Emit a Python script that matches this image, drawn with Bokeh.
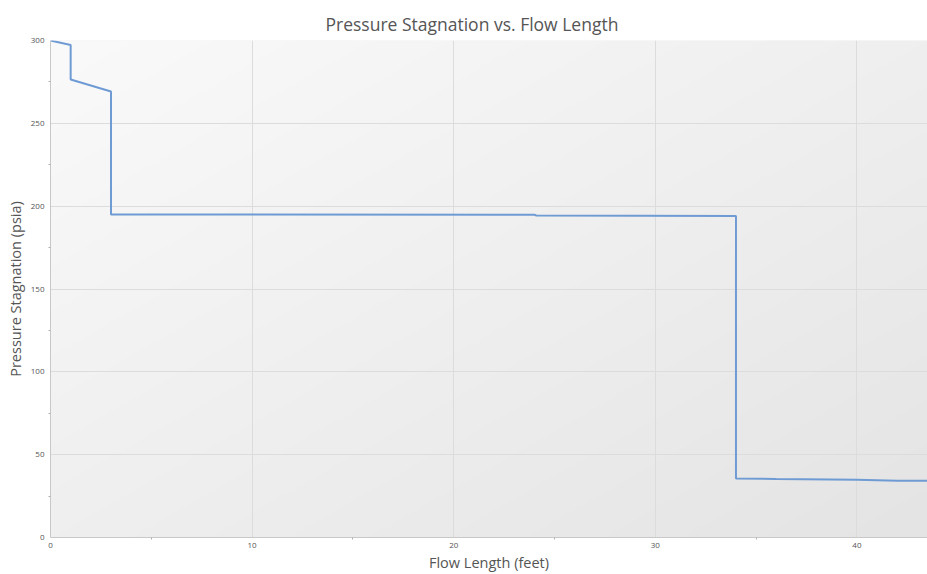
import numpy as np
from bokeh.plotting import figure
from bokeh.models import Range1d, FixedTicker
from bokeh.embed import file_html
from bokeh.resources import INLINE

# Data
flow_length = [0.0, 1.0, 1.0, 3.0, 3.0, 24.0, 24.1, 34.0, 34.0, 36.0, 40.0, 42.0, 43.5]
pressure_stagnation = [300.0, 297.3, 276.5, 269.2, 195.0, 194.8, 194.4, 194.0, 35.6, 35.3, 34.8, 34.3, 34.2]
x_ticks = [0, 10, 20, 30, 40]
y_ticks = [0, 50, 100, 150, 200, 250, 300]

X_MAX = 43.5
Y_MAX = 300

p = figure(width=927, height=574, output_backend="svg", toolbar_location=None,
           x_range=Range1d(0, X_MAX), y_range=Range1d(0, Y_MAX),
           title="Pressure Stagnation vs. Flow Length",
           min_border_left=50, min_border_right=0, min_border_top=40, min_border_bottom=0)

p.title.align = "left"
p.title.offset = 275
p.title.vertical_align = "top"
p.title.standoff = 6
p.title.text_font = "Open Sans"
p.title.text_font_size = "17.5px"
p.title.text_font_style = "normal"
p.title.text_color = "#555555"

# gradient background
n = 200
gx, gy = np.meshgrid(np.linspace(0, 1, n), np.linspace(0, 1, n))
t = (gx + (1 - gy)) / 2.0
c = (250 - t * 22).astype(np.uint8)
img = np.empty((n, n), dtype=np.uint32)
view = img.view(dtype=np.uint8).reshape((n, n, 4))
view[:, :, 0] = c
view[:, :, 1] = c
view[:, :, 2] = c
view[:, :, 3] = 255
bg = p.image_rgba(image=[img], x=0, y=0, dw=X_MAX, dh=Y_MAX)
bg.level = "image"

p.line(flow_length, pressure_stagnation, line_color="#6f9bd4", line_width=2)

p.outline_line_color = None
p.background_fill_color = "#f2f2f2"
p.border_fill_color = "white"

p.xaxis.ticker = FixedTicker(ticks=x_ticks, minor_ticks=[5, 15, 25, 35])
p.yaxis.ticker = FixedTicker(ticks=y_ticks, minor_ticks=[25, 75, 125, 175, 225, 275])

for ax in (p.xaxis[0], p.yaxis[0]):
    ax.axis_line_color = "#c8c8c8"
    ax.major_tick_line_color = "#c8c8c8"
    ax.minor_tick_line_color = "#b0b0b0"
    ax.major_tick_in = 0
    ax.major_tick_out = 0
    ax.minor_tick_in = 0
    ax.minor_tick_out = 2
    ax.major_label_text_font = "Open Sans"
    ax.major_label_text_font_size = "8px"
    ax.major_label_text_color = "#555555"
    ax.axis_label_text_font = "Open Sans"
    ax.axis_label_text_font_size = "14.5px"
    ax.axis_label_text_font_style = "normal"
    ax.axis_label_text_color = "#555555"

p.xaxis.major_label_standoff = 3
p.xaxis.axis_label_standoff = 2
p.yaxis.major_label_standoff = 4
p.yaxis.axis_label_standoff = 3

p.xaxis.axis_label = "Flow Length (feet)"
p.yaxis.axis_label = "Pressure Stagnation (psia)"

p.grid.grid_line_color = "#dcdcdc"
p.grid.grid_line_width = 1

open("out.html", "w").write(file_html(p, INLINE))
